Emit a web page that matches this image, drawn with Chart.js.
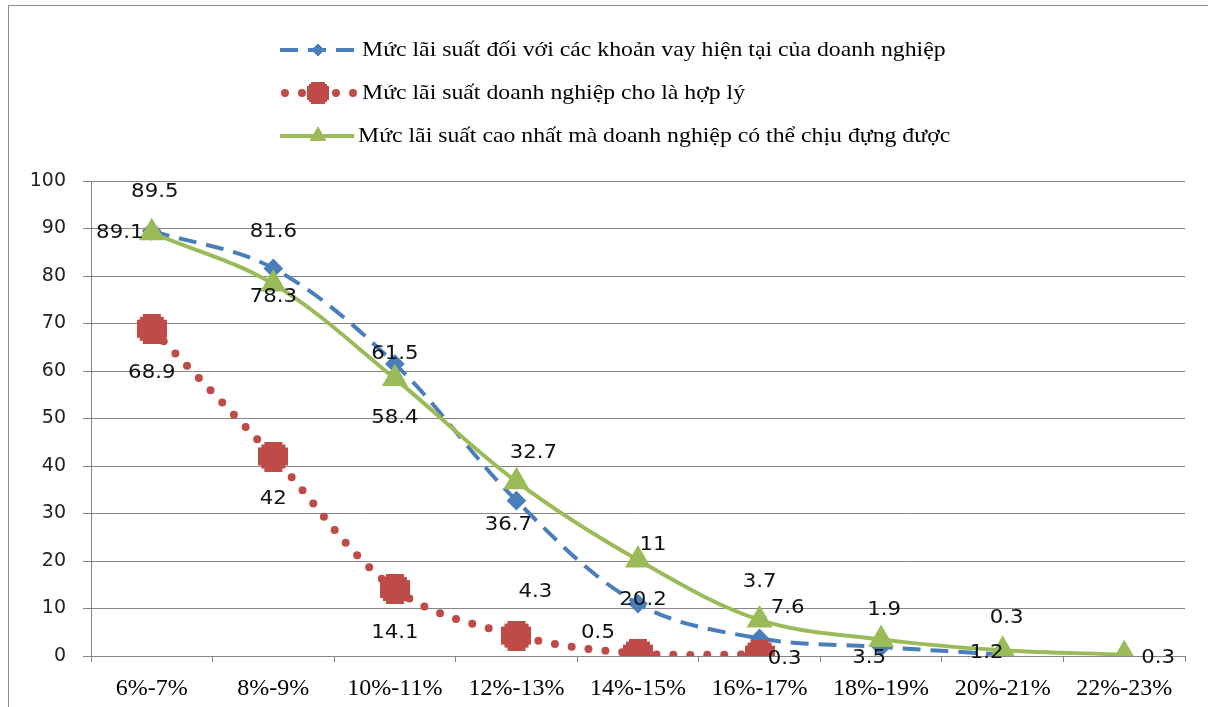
<!DOCTYPE html>
<html>
<head>
<meta charset="utf-8">
<script src="https://cdn.jsdelivr.net/npm/chart.js@4/dist/chart.umd.min.js"></script>
<style>
  html, body { margin: 0; padding: 0; background: #fff; }
  #khung { position: absolute; left: 8px; top: 5px; width: 1300px; height: 800px; border-left: 1px solid #8c8c8c; border-top: 1px solid #8c8c8c; }
  #bieudo { position: absolute; left: 0; top: 0; }
</style>
</head>
<body>
<div id="khung"></div>
<canvas id="bieudo" width="1208" height="707"></canvas>
<script>
// du lieu doc tu hinh
const nhan = ['6%-7%', '8%-9%', '10%-11%', '12%-13%', '14%-15%', '16%-17%', '18%-19%', '20%-21%', '22%-23%'];
const laiHienTai = [89.5, 81.6, 61.5, 32.7, 11, 3.7, 1.9, 0.3, null];
const laiHopLy = [68.9, 42, 14.1, 4.3, 0.5, 0.3, null, null, null];
const laiCaoNhat = [89.1, 78.3, 58.4, 36.7, 20.2, 7.6, 3.5, 1.2, 0.3];
const tenSeries = [
  'Mức lãi suất đối với các khoản vay hiện tại của doanh nghiệp',
  'Mức lãi suất doanh nghiệp cho là hợp lý',
  'Mức lãi suất cao nhất mà doanh nghiệp có thể chịu đựng được'
];

// vi tri nhan so lieu (lech so voi diem)
const lechNhan = [
  [[3,-39],[0,-36],[0,-10],[17,-48],[15,-59],[0,-56],[3,-37],[4,-37],null],
  [[0,44],[0,43],[0,44],[19,-44],[-40,-21],[25,4],null,null,null],
  [[-32,0],[0,13],[0,39],[-8,43],[5,40],[28,-12],[-12,19],[-16,3],[34,3]]
];

const xanh = '#4a7ebb';
const do_ = '#be4b48';
const xanhLa = '#9bbb59';

// ve ky hieu dau cong to cua Excel (mot hinh dac)
function taoDauCong(kt) {
  const c = document.createElement('canvas');
  c.width = kt; c.height = kt;
  const g = c.getContext('2d');
  const a = Math.round(kt * 0.1), b = Math.round(kt * 0.2), m = kt - a, n = kt - b;
  g.fillStyle = do_;
  g.beginPath();
  g.moveTo(b, 0); g.lineTo(n, 0); g.lineTo(n, a); g.lineTo(m, a); g.lineTo(m, b);
  g.lineTo(kt, b); g.lineTo(kt, n); g.lineTo(m, n); g.lineTo(m, m); g.lineTo(n, m);
  g.lineTo(n, kt); g.lineTo(b, kt); g.lineTo(b, m); g.lineTo(a, m); g.lineTo(a, n);
  g.lineTo(0, n); g.lineTo(0, b); g.lineTo(a, b); g.lineTo(a, a); g.lineTo(b, a);
  g.closePath();
  g.fill();
  return c;
}
const dauCongLon = taoDauCong(30);
const dauCongNho = taoDauCong(22);

const veNhan = {
  id: 'veNhan',
  afterDatasetsDraw(chart) {
    const ctx = chart.ctx;
    ctx.save();
    ctx.font = '19px "DejaVu Sans"';
    ctx.fillStyle = '#111';
    ctx.textAlign = 'center';
    ctx.textBaseline = 'middle';
    chart.data.datasets.forEach((ds, i) => {
      const meta = chart.getDatasetMeta(i);
      meta.data.forEach((p, j) => {
        const v = ds.data[j];
        if (v === null || !lechNhan[i][j]) return;
        ctx.save();
        ctx.translate(p.x + lechNhan[i][j][0], p.y + lechNhan[i][j][1]);
        ctx.scale(1.12, 1);
        ctx.fillText(String(v), 0, 0);
        ctx.restore();
      });
    });
    ctx.restore();
  }
};

const chuGiai = {
  id: 'chuGiai',
  afterDraw(chart) {
    const ctx = chart.ctx;
    const hang = [50, 93, 136];
    ctx.save();
    chart.data.datasets.forEach((ds, i) => {
      const y = hang[i];
      ctx.save();
      ctx.strokeStyle = ds.borderColor;
      ctx.lineWidth = ds.borderWidth;
      ctx.lineCap = ds.borderCapStyle || 'butt';
      ctx.setLineDash(ds.borderDash || []);
      ctx.beginPath();
      ctx.moveTo(i === 1 ? 285 : 280, y);
      ctx.lineTo(354, y);
      ctx.stroke();
      ctx.restore();
      const kieu = i === 1 ? dauCongNho : ds.pointStyle;
      ctx.fillStyle = ds.pointBackgroundColor;
      ctx.strokeStyle = ds.pointBorderColor;
      Chart.helpers.drawPoint(ctx, { pointStyle: kieu, radius: i === 2 ? 9 : 6, rotation: 0, borderWidth: 1 }, 318, y);
      ctx.save();
      ctx.fillStyle = '#000';
      ctx.font = '22px "Liberation Serif"';
      ctx.textBaseline = 'middle';
      ctx.textAlign = 'left';
      ctx.translate(i === 2 ? 358 : 362, y);
      ctx.scale(1.08, 1);
      ctx.fillText(tenSeries[i], 0, 0);
      ctx.restore();
    });
    ctx.restore();
  }
};

new Chart(document.getElementById('bieudo'), {
  type: 'line',
  data: {
    labels: nhan,
    datasets: [
      {
        label: tenSeries[0],
        data: laiHienTai,
        borderColor: xanh,
        borderWidth: 4,
        borderDash: [18, 10],
        pointStyle: 'rectRot',
        pointRadius: 7,
        pointBackgroundColor: xanh,
        pointBorderColor: xanh,
        tension: 0.35,
        order: 3
      },
      {
        label: tenSeries[1],
        data: laiHopLy,
        borderColor: do_,
        borderWidth: 8,
        borderDash: [0, 17],
        borderCapStyle: 'round',
        pointStyle: dauCongLon,
        pointRadius: 15,
        pointBackgroundColor: do_,
        pointBorderColor: do_,
        tension: 0.35,
        order: 2
      },
      {
        label: tenSeries[2],
        data: laiCaoNhat,
        borderColor: xanhLa,
        borderWidth: 4,
        pointStyle: 'triangle',
        pointRadius: 11,
        pointBackgroundColor: xanhLa,
        pointBorderColor: xanhLa,
        tension: 0.35,
        order: 1
      }
    ]
  },
  options: {
    responsive: false,
    animation: false,
    layout: { padding: { top: 181, right: 19, left: 0, bottom: 0 } },
    plugins: { legend: { display: false }, tooltip: { enabled: false } },
    scales: {
      x: {
        offset: true,
        grid: { drawOnChartArea: false, drawTicks: true, tickLength: 6, color: '#868686', offset: true },
        border: { display: true, color: '#868686' },
        ticks: { color: '#000', font: { family: 'Liberation Serif', size: 24 }, padding: 12, maxRotation: 0 },
        afterFit(s) { s.height = 51; }
      },
      y: {
        min: 0,
        max: 100,
        ticks: { stepSize: 10, color: '#222', font: { family: 'DejaVu Sans', size: 19 }, padding: 17 },
        grid: { color: '#868686', tickLength: 8 },
        border: { display: true, color: '#868686' },
        afterFit(s) { s.width = 91; }
      }
    }
  },
  plugins: [veNhan, chuGiai]
});
</script>
</body>
</html>
